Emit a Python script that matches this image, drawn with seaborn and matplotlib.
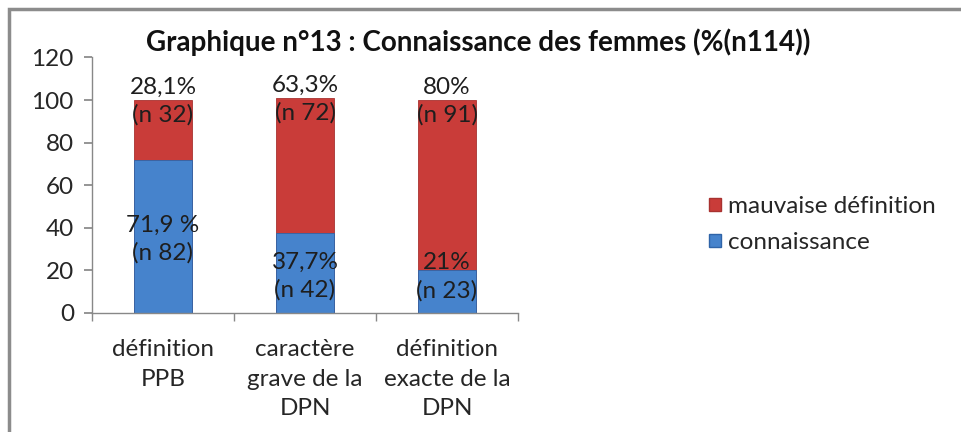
import matplotlib
matplotlib.use("Agg")
import matplotlib.pyplot as plt
import seaborn as sns
import pandas as pd
from matplotlib.patches import Rectangle, Patch

categories = ["définition\nPPB", "caractère\ngrave de la\nDPN", "définition\nexacte de la\nDPN"]
connaissance = [71.9, 37.7, 20.0]
mauvaise = [28.1, 63.3, 80.0]
labels_conn = ["71,9 %\n(n 82)", "37,7%\n(n 42)", "21%\n(n 23)"]
labels_mauv = ["28,1%\n(n 32)", "63,3%\n(n 72)", "80%\n(n 91)"]
yticks = [0, 20, 40, 60, 80, 100, 120]

sns.set_theme(style="white")
plt.rcParams["font.family"] = ["Lato", "DejaVu Sans"]

RED = "#C93C39"
BLUE = "#4683CC"
FS = 17.5

df = pd.DataFrame({
    "cat": categories,
    "conn": connaissance,
    "total": [c + m for c, m in zip(connaissance, mauvaise)],
})

fig = plt.figure(figsize=(9.62, 4.32), dpi=100)
ax = fig.add_axes([0.0956, 0.2755, 0.4429, 0.5914])

sns.barplot(data=df, x="cat", y="total", color=RED, width=0.405, ax=ax,
            saturation=1, edgecolor="#A83230", linewidth=0.6)
sns.barplot(data=df, x="cat", y="conn", color=BLUE, width=0.405, ax=ax,
            saturation=1, edgecolor="#2F64A8", linewidth=0.6)

for i, (c, t) in enumerate(zip(df["conn"], df["total"])):
    ax.text(i, t - 0.5, labels_mauv[i], ha="center", va="center", fontsize=FS,
            color="#1E1E1E", linespacing=1.35)
    ax.text(i, max(c / 2 - 1.5, 17.0), labels_conn[i], ha="center", va="center",
            fontsize=FS, color="#1E1E1E", linespacing=1.35)

ax.set_ylim(0, 120)
ax.set_xlim(-0.5, 2.5)
ax.set_yticks(yticks)
ax.set_yticklabels([str(v) for v in yticks], fontsize=FS)
ax.set_xticks(range(len(categories)))
ax.set_xticklabels(categories, fontsize=FS, linespacing=1.5)
ax.set_xlabel("")
ax.set_ylabel("")
ax.set_xticks([-0.5, 0.5, 1.5, 2.5], minor=True)
ax.tick_params(axis="x", which="major", length=0, pad=19)
ax.tick_params(axis="x", which="minor", length=6, color="#888888", direction="out", bottom=True)
ax.tick_params(axis="y", length=6, color="#888888", direction="out", left=True, pad=7)
for s in ["top", "right"]:
    ax.spines[s].set_visible(False)
for s in ["left", "bottom"]:
    ax.spines[s].set_color("#888888")
    ax.spines[s].set_linewidth(1)

fig.text(0.497, 0.903, "Graphique n°13 : Connaissance des femmes (%(n114))",
         ha="center", va="center", fontsize=20, fontweight="bold", color="#111111")

handles = [Patch(facecolor=RED, edgecolor="#A83230", label="mauvaise définition"),
           Patch(facecolor=BLUE, edgecolor="#2F64A8", label="connaissance")]
fig.legend(handles=handles, loc="center left", bbox_to_anchor=(0.714, 0.48),
           frameon=False, fontsize=FS, handlelength=0.5, handleheight=0.5,
           handletextpad=0.3, labelspacing=0.62)

fig.patches.append(Rectangle((0.009, -0.05), 1.2, 1.03, transform=fig.transFigure,
                             fill=False, edgecolor="#8C8C8C", linewidth=2.5, figure=fig))

fig.savefig("out.png", dpi=100)
